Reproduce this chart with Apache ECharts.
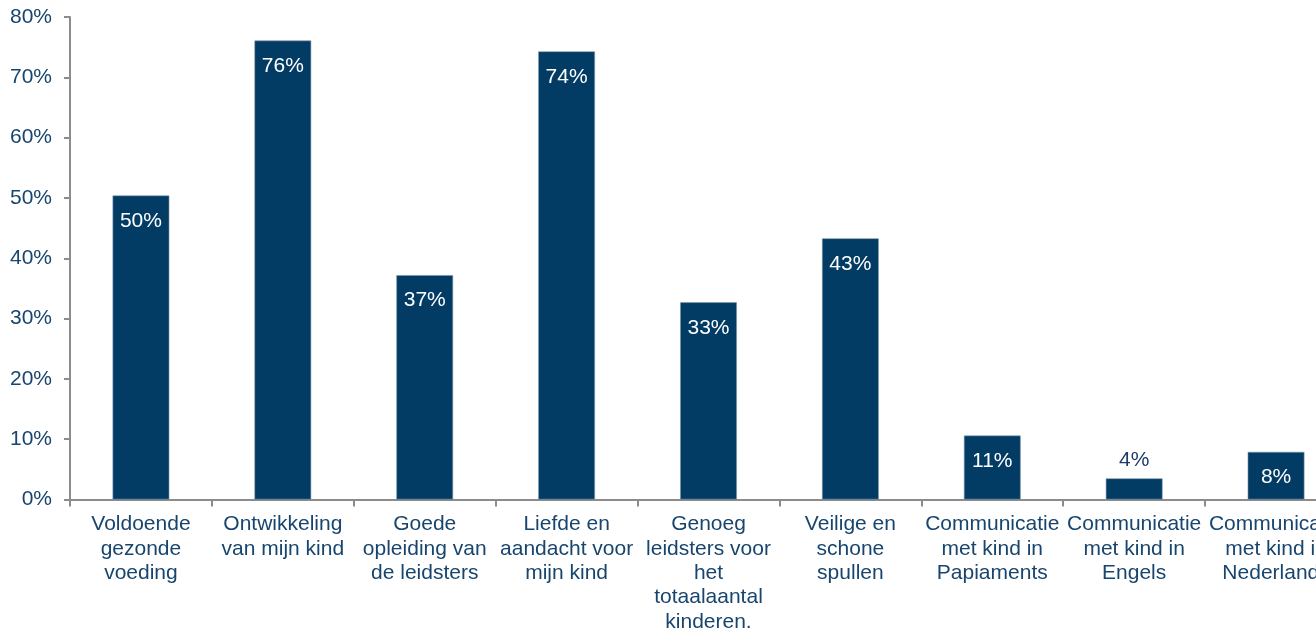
<!DOCTYPE html>
<html>
<head>
<meta charset="utf-8">
<script src="https://cdn.jsdelivr.net/npm/echarts@6/dist/echarts.min.js"></script>
<style>
html,body{margin:0;padding:0;background:#fff;}
#chart{width:1316px;height:637px;}
</style>
</head>
<body>
<div id="chart"></div>
<script>
var categories = [
  "Voldoende\ngezonde\nvoeding",
  "Ontwikkeling\nvan mijn kind",
  "Goede\nopleiding van\nde leidsters",
  "Liefde en\naandacht voor\nmijn kind",
  "Genoeg\nleidsters voor\nhet\ntotaalaantal\nkinderen.",
  "Veilige en\nschone\nspullen",
  "Communicatie\nmet kind in\nPapiaments",
  "Communicatie\nmet kind in\nEngels",
  "Communicatie\nmet kind in\nNederlands"
];
var values = [50.4, 76.1, 37.2, 74.3, 32.7, 43.3, 10.6, 3.5, 7.9];
var yTicks = [0, 10, 20, 30, 40, 50, 60, 70, 80];

var textColor = '#17456e';
var barColor = '#023b63';
var font = '"Liberation Sans", Arial, sans-serif';

var chart = echarts.init(document.getElementById('chart'));
chart.setOption({
  animation: false,
  grid: { left: 70, width: 1277, top: 17, height: 482.5, outerBoundsMode: 'none', containLabel: false },
  xAxis: {
    type: 'category',
    data: categories,
    axisLine: { lineStyle: { color: '#8c8c8c', width: 2 } },
    axisTick: { show: true, length: 7, lineStyle: { color: '#8c8c8c', width: 2 } },
    axisLabel: {
      interval: 0, margin: 13, color: textColor, fontSize: 21, fontWeight: 'normal',
      fontFamily: font, lineHeight: 24.3, align: 'center'
    }
  },
  yAxis: {
    type: 'value',
    min: yTicks[0], max: yTicks[yTicks.length - 1], interval: 10,
    splitLine: { show: false },
    axisLine: { show: true, lineStyle: { color: '#8c8c8c', width: 2 } },
    axisTick: { show: true, length: 6, lineStyle: { color: '#8c8c8c', width: 2 } },
    axisLabel: {
      margin: 18, color: textColor, fontSize: 21, fontWeight: 'normal', fontFamily: font,
      formatter: function (v) { return v + '%'; }
    }
  },
  series: [{
    type: 'bar',
    barWidth: '40%',
    data: values.map(function (v) {
      if (v < 5) {
        return { value: v, label: { position: 'top', distance: 8, color: '#1f3a6e' } };
      }
      return v;
    }),
    itemStyle: { color: barColor, borderColor: '#7f98b0', borderWidth: 0.6 },
    label: {
      show: true, position: 'insideTop', distance: 15,
      color: '#ffffff', fontSize: 21, fontWeight: 'normal', fontFamily: font,
      textBorderWidth: 0,
      formatter: function (p) { return Math.round(p.value) + '%'; }
    }
  }]
});
</script>
</body>
</html>
